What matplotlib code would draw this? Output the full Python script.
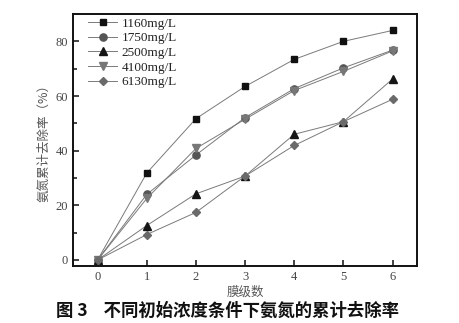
import matplotlib.pyplot as plt
import numpy as np

SERIF = ['Liberation Serif', 'DejaVu Serif']
CJK = ['Noto Sans CJK SC', 'DejaVu Sans']

# Membrane stages and cumulative ammonia-nitrogen removal (%)
stages = [0, 1, 2, 3, 4, 5, 6]
labels = ['1160mg/L', '1750mg/L', '2500mg/L', '4100mg/L', '6130mg/L']
r1160 = [0, 31.8, 51.7, 63.5, 73.4, 80.0, 84.0]
r1750 = [0, 24.0, 38.4, 52.1, 62.7, 70.3, 76.8]
r2500 = [0, 12.6, 24.2, 30.7, 46.0, 50.6, 66.2]
r4100 = [0, 22.5, 40.8, 51.5, 62.0, 69.0, 76.5]
r6130 = [0, 9.3, 17.4, 30.7, 41.9, 50.6, 58.8]

series = [r1160, r1750, r2500, r4100, r6130]
markers = ['s', 'o', '^', 'v', 'D']
mcolors = ['#111111', '#555555', '#151515', '#777777', '#6a6a6a']
msizes = [4.8, 5.2, 5.6, 5.6, 4.3]

fig = plt.figure(figsize=(4.6, 3.23), dpi=100, facecolor='white')
ax = fig.add_axes([0.1587, 0.1765, 0.748, 0.78])

for vals, lab, m, c, ms in zip(series, labels, markers, mcolors, msizes):
    ax.plot(stages, vals, color='#7a7a7a', lw=0.7, marker=m, ms=ms,
            markerfacecolor=c, markeredgecolor=c, label=lab)

ax.set_xlim(-0.5, 6.5)
ax.set_ylim(-2.2, 90)
ax.set_xticks(stages)
ax.set_yticks([0, 20, 40, 60, 80])
ax.set_yticks([10, 30, 50, 70], minor=True)
ax.tick_params(axis='both', which='both', direction='in', top=False, right=False,
               labelsize=9, colors='#222222', width=1.2)
ax.tick_params(axis='both', which='major', length=4)
ax.tick_params(axis='y', which='minor', length=3)
for t in ax.get_xticklabels() + ax.get_yticklabels():
    t.set_fontfamily(SERIF)
    t.set_color('#444444')
for s in ax.spines.values():
    s.set_linewidth(1.4)
    s.set_color('#111111')

ax.set_xlabel('膜级数', fontfamily=CJK, fontsize=9, color='#555555', labelpad=2)
ax.set_ylabel('氨氮累计去除率（%）', fontfamily=CJK, fontsize=9, color='#555555', labelpad=4)

leg = ax.legend(loc='upper left', bbox_to_anchor=(0.02, 1.02), frameon=False,
                prop={'family': SERIF, 'size': 9.5},
                handlelength=2.2, labelspacing=0.18, handletextpad=0.3,
                borderaxespad=0.25)
for t in leg.get_texts():
    t.set_color('#222222')

fig.text(0.495, 0.037, '图 3    不同初始浓度条件下氨氮的累计去除率', ha='center', va='center',
         fontfamily=CJK, fontsize=12.5, fontweight='bold', color='#111111')

fig.savefig('out.png', dpi=100, facecolor='white')
